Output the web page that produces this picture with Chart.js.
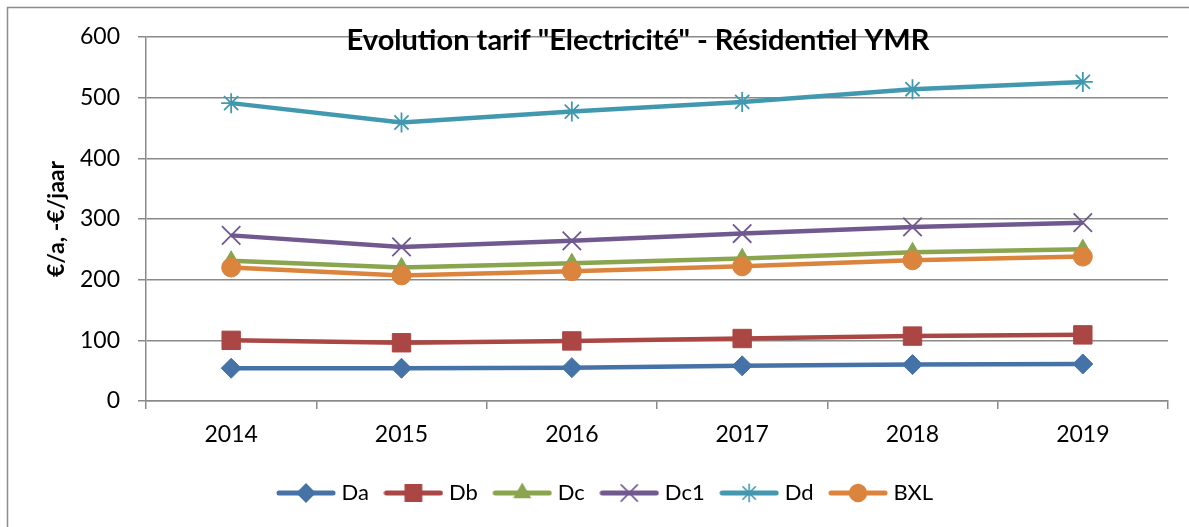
<!DOCTYPE html>
<html>
<head>
<meta charset="utf-8">
<script src="https://cdn.jsdelivr.net/npm/chart.js@4.4.0/dist/chart.umd.min.js"></script>
<style>
html, body { margin: 0; padding: 0; background: #fff; }
</style>
</head>
<body>
<canvas id="tarifChart" width="1189" height="527"></canvas>
<script>
// Jaren / années
const years = ['2014', '2015', '2016', '2017', '2018', '2019'];

// €/a per profile
const da  = [54, 54, 55, 58, 60, 61];
const db  = [100, 96, 99, 103, 107, 109];
const dc  = [231, 220, 227, 235, 245, 250];
const dc1 = [273, 254, 264, 276, 287, 294];
const dd  = [491, 459, 477, 493, 514, 526];
const bxl = [220, 207, 214, 222, 232, 238];

const seriesNames = ['Da', 'Db', 'Dc', 'Dc1', 'Dd', 'BXL'];
const seriesData = [da, db, dc, dc1, dd, bxl];
const seriesColors = ['#4572A7', '#AA4643', '#89A54E', '#71588F', '#4198AF', '#DB843D'];
const seriesMarkers = ['rectRot', 'rect', 'triangle', 'crossRot', 'star', 'circle'];
const markerSizes = [10, 13, 10, 13, 10, 9.5];

const chartTitle = 'Evolution tarif "Electricité" - Résidentiel YMR';
const yTitle = '€/a, -€/jaar';

const fontFam = 'Lato, "Open Sans", sans-serif';

//little icon for the legend: line with the marker on it
function legendIcon(color, style, radius){
    const c = document.createElement('canvas');
    c.width = 60;
    c.height = 28;
    const g = c.getContext('2d');
    g.strokeStyle = color;
    g.fillStyle = color;
    g.lineWidth = 5;
    g.lineCap = 'round';
    g.beginPath();
    g.moveTo(3, 14);
    g.lineTo(57, 14);
    g.stroke();
    g.lineWidth = 1.6;
    Chart.helpers.drawPoint(g, {pointStyle: style, radius: radius, borderWidth: 1.6, rotation: 0}, 30, 14);
    return c;
}

const legendIcons = seriesNames.map((n, i) => legendIcon(seriesColors[i], seriesMarkers[i], markerSizes[i] * 0.88));

const datasets = seriesNames.map((name, i) => ({
    label: name,
    data: seriesData[i],
    borderColor: seriesColors[i],
    backgroundColor: seriesColors[i],
    borderWidth: 4.5,
    pointStyle: seriesMarkers[i],
    pointRadius: markerSizes[i],
    pointHoverRadius: markerSizes[i],
    pointBackgroundColor: seriesColors[i],
    pointBorderColor: seriesColors[i],
    pointBorderWidth: (seriesMarkers[i] === 'crossRot' || seriesMarkers[i] === 'star') ? 1.8 : 1,
    tension: 0,
    clip: false,
    order: seriesNames.length - i
}));

//white background + frame and the title drawn over the plot
const frameAndTitle = {
    id: 'frameAndTitle',
    beforeDraw(chart){
        const ctx = chart.ctx;
        ctx.save();
        ctx.fillStyle = '#fff';
        ctx.fillRect(0, 0, chart.width, chart.height);
        ctx.strokeStyle = '#8c8c8c';
        ctx.lineWidth = 1.5;
        ctx.beginPath();
        ctx.moveTo(7.5, chart.height + 5);
        ctx.lineTo(7.5, 7.5);
        ctx.lineTo(chart.width + 5, 7.5);
        ctx.stroke();
        ctx.restore();
    },
    afterLayout(chart){
        //excel puts the legend a bit left of the middle
        const lg = chart.legend;
        if (!lg || !lg.lineWidths) return;
        const start = lg.left + lg.options.labels.padding;
        const end = lg.right - lg.lineWidths[0];
        const x0 = (start + end) / 2;
        const shift = 281.5 - x0;
        lg.left += shift;
        lg.right += shift;
    },
    afterDraw(chart){
        const ctx = chart.ctx;
        ctx.save();
        ctx.font = 'bold 29px ' + fontFam;
        ctx.fillStyle = '#000';
        ctx.textAlign = 'center';
        ctx.textBaseline = 'alphabetic';
        ctx.fillText(chartTitle, 638, 50, 594);
        ctx.restore();
    }
};

const ctx = document.getElementById('tarifChart').getContext('2d');

new Chart(ctx, {
    type: 'line',
    data: {
        labels: years,
        datasets: datasets
    },
    options: {
        responsive: false,
        animation: false,
        layout: {
            padding: {top: 37, right: 21, left: 0, bottom: 13}
        },
        scales: {
            x: {
                offset: true,
                grid: {
                    offset: true,
                    drawOnChartArea: false,
                    drawTicks: true,
                    tickLength: 8,
                    color: '#8a8a8a',
                    lineWidth: 1.5
                },
                border: {color: '#8a8a8a', width: 1.5},
                ticks: {
                    font: {family: fontFam, size: 23},
                    color: '#000',
                    padding: 12
                },
                afterFit: s => { s.height = 61; }
            },
            y: {
                min: 0,
                max: 600,
                ticks: {
                    stepSize: 100,
                    font: {family: fontFam, size: 23},
                    color: '#000',
                    padding: 18
                },
                grid: {
                    color: '#8a8a8a',
                    lineWidth: 1.5,
                    drawTicks: true,
                    tickLength: 8
                },
                border: {color: '#8a8a8a', width: 1.5},
                title: {
                    display: true,
                    text: yTitle,
                    color: '#000',
                    font: {family: fontFam, size: 23, weight: 'bold'},
                    padding: {top: 43, bottom: 0}
                },
                afterFit: s => { s.width = 146; }
            }
        },
        plugins: {
            title: {display: false},
            tooltip: {enabled: false},
            legend: {
                position: 'bottom',
                labels: {
                    usePointStyle: true,
                    pointStyleWidth: 49,
                    color: '#000',
                    font: {family: fontFam, size: 22},
                    padding: 20,
                    sort: (a, b) => a.datasetIndex - b.datasetIndex,
                    generateLabels: chart => {
                        const items = Chart.defaults.plugins.legend.labels.generateLabels(chart);
                        items.forEach(item => {
                            item.pointStyle = legendIcons[item.datasetIndex];
                        });
                        return items;
                    }
                }
            }
        }
    },
    plugins: [frameAndTitle]
});
</script>
</body>
</html>
